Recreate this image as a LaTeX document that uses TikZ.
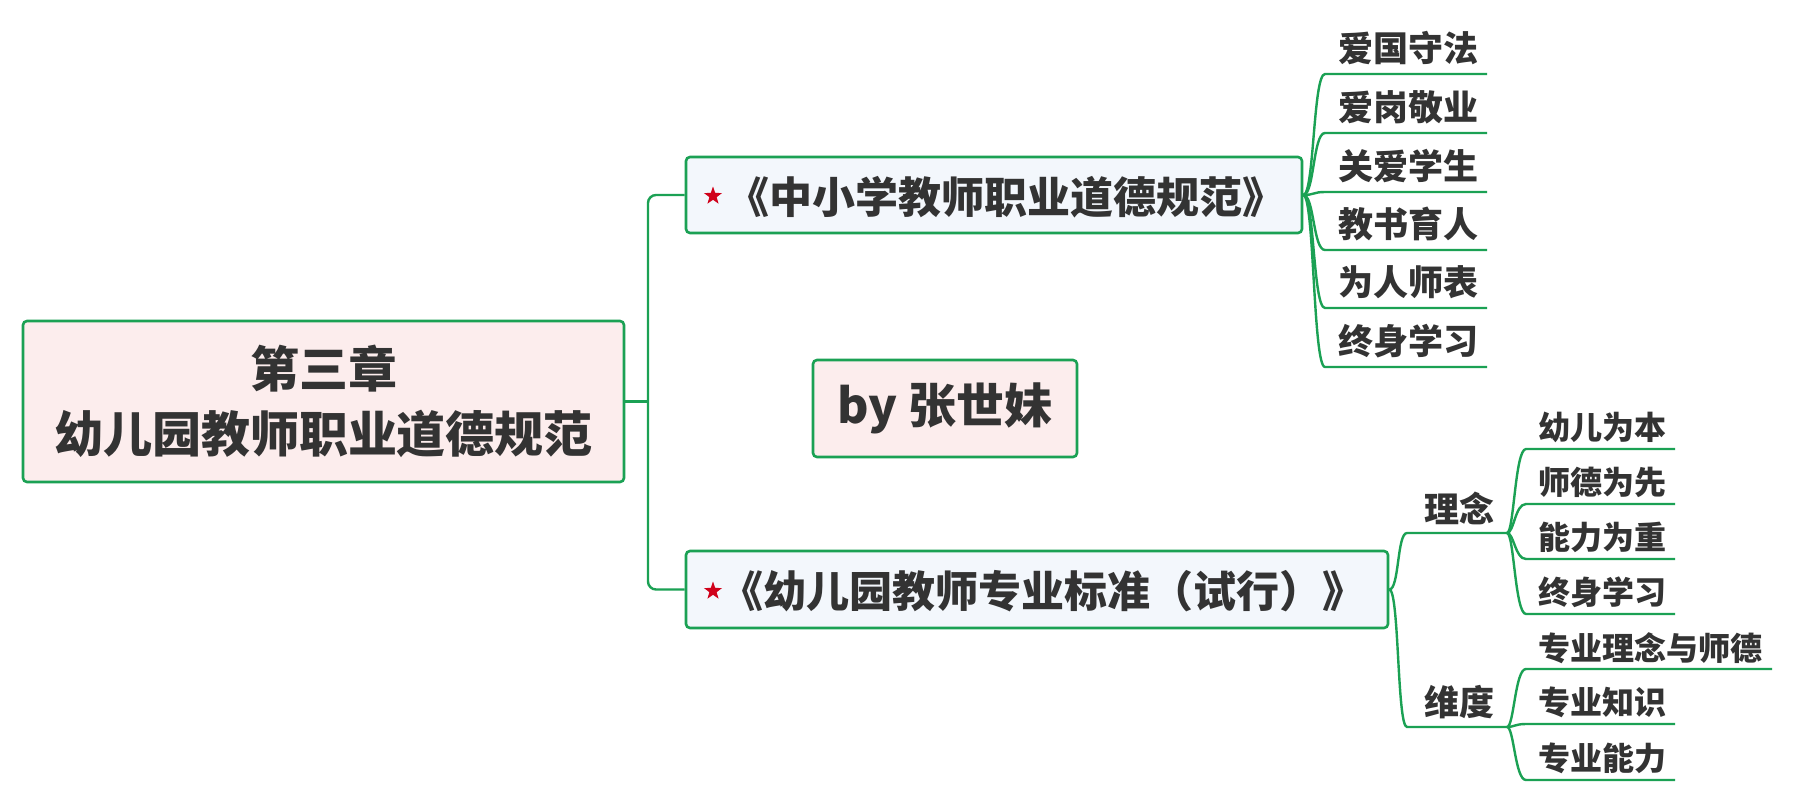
\documentclass[tikz,border=0pt]{standalone}
\usepackage{fontspec}
\setmainfont{Noto Sans CJK SC}
\usetikzlibrary{shapes.geometric,backgrounds}
\definecolor{mmgreen}{HTML}{1BA154}
\definecolor{mmpink}{HTML}{FCEDED}
\definecolor{mmblue}{HTML}{F3F7FC}
\definecolor{mmtext}{HTML}{333333}
\definecolor{mmred}{HTML}{D0021B}
\newcommand\mmfs[1]{\fontsize{#1}{#1}\selectfont\bfseries}
\begin{document}
\begin{tikzpicture}[x=1pt,y=-1pt,
  box/.style={draw=mmgreen, line width=2.6pt, rounded corners=4pt, inner sep=0pt, text=mmtext},
  link/.style={draw=mmgreen, line width=2.4pt},
  leaf/.style={text=mmtext, inner sep=0pt, anchor=west, font=\mmfs{35}},
  mid/.style={text=mmtext, inner sep=0pt, anchor=west, font=\mmfs{35}},
  small/.style={text=mmtext, inner sep=0pt, anchor=west, font=\mmfs{32}},
  title/.style={text=mmtext, inner sep=0pt, font=\mmfs{43}},
  mark5/.style={star, star points=5, star point ratio=2.5, fill=mmred, minimum size=19pt, inner sep=0pt}
]
\useasboundingbox (0,0) rectangle (1794,803);

% coordinates for underlines
\coordinate (tj) at (648,401.5);
\coordinate (l1a) at (1325,74);  \coordinate (l1b) at (1487,74);
\coordinate (l2a) at (1325,133); \coordinate (l2b) at (1487,133);
\coordinate (l3a) at (1325,192); \coordinate (l3b) at (1487,192);
\coordinate (l4a) at (1325,250); \coordinate (l4b) at (1487,250);
\coordinate (l5a) at (1325,308); \coordinate (l5b) at (1487,308);
\coordinate (l6a) at (1325,367); \coordinate (l6b) at (1487,367);
\coordinate (c1a) at (1407,533); \coordinate (c1b) at (1507,533);
\coordinate (c2a) at (1407,727); \coordinate (c2b) at (1507,727);
\coordinate (g1a) at (1526,449); \coordinate (g1b) at (1675,449);
\coordinate (g2a) at (1526,504); \coordinate (g2b) at (1675,504);
\coordinate (g3a) at (1526,559); \coordinate (g3b) at (1675,559);
\coordinate (g4a) at (1526,614); \coordinate (g4b) at (1675,614);
\coordinate (h1a) at (1526,669); \coordinate (h1b) at (1772,669);
\coordinate (h2a) at (1526,724); \coordinate (h2b) at (1675,724);
\coordinate (h3a) at (1526,780); \coordinate (h3b) at (1675,780);

% boxes
\path (323.5,401.5) node[box, fill=mmpink, minimum width=601pt, minimum height=161pt, align=center, font=\fontsize{49}{65}\selectfont\bfseries] (root) {第三章\\幼儿园教师职业道德规范};
\path (994,195) node[box, fill=mmblue, minimum width=616pt, minimum height=76pt] (b1) {};
\path (1037,589.5) node[box, fill=mmblue, minimum width=702pt, minimum height=77pt] (b2) {};
\path (945,408.5) node[box, fill=mmpink, minimum width=264pt, minimum height=97pt, font=\mmfs{48}] (by) {by 张世妹};

% connectors (behind the boxes)
\begin{pgfonlayer}{background}
\fill[white] (0,0) rectangle (1794,803);
\draw[link] (root.east) -- (tj);
\draw[link, rounded corners=8pt] (b1.west) -- (tj |- b1.west) -- (tj |- b2.west) -- (b2.west);
\foreach \n in {l1,l2,l3,l4,l5,l6}
  \draw[link] (b1.east) .. controls +(11,0) and +(-12,0) .. (\n a) -- (\n b);
\foreach \n in {c1,c2}
  \draw[link] (b2.east) .. controls +(10,0) and +(-10,0) .. (\n a) -- (\n b);
\foreach \n in {g1,g2,g3,g4}
  \draw[link] (c1b) .. controls +(7,0) and +(-11,0) .. (\n a) -- (\n b);
\foreach \n in {h1,h2,h3}
  \draw[link] (c2b) .. controls +(7,0) and +(-11,0) .. (\n a) -- (\n b);
\end{pgfonlayer}

% branch titles
\node[mark5] (s1) at (713,196) {};
\node[title] (b1t) at (1006,197) {《中小学教师职业道德规范》};
\node[mark5] (s2) at (713,591) {};
\node[title] (b2t) at (1043,591) {《幼儿园教师专业标准（试行）》};

% leaves of branch 1
\node[leaf] (t1) at (1338,48) {爱国守法};
\node[leaf] (t2) at (1338,107) {爱岗敬业};
\node[leaf] (t3) at (1338,166) {关爱学生};
\node[leaf] (t4) at (1338,224) {教书育人};
\node[leaf] (t5) at (1338,282) {为人师表};
\node[leaf] (t6) at (1338,341) {终身学习};

% children of branch 2
\node[mid] (m1) at (1424,508) {理念};
\node[mid] (m2) at (1424,702) {维度};

\node[small] (u1) at (1538,427) {幼儿为本};
\node[small] (u2) at (1538,482) {师德为先};
\node[small] (u3) at (1538,537) {能力为重};
\node[small] (u4) at (1538,592) {终身学习};
\node[small] (v1) at (1538,648) {专业理念与师德};
\node[small] (v2) at (1538,702) {专业知识};
\node[small] (v3) at (1538,758) {专业能力};
\end{tikzpicture}
\end{document}
